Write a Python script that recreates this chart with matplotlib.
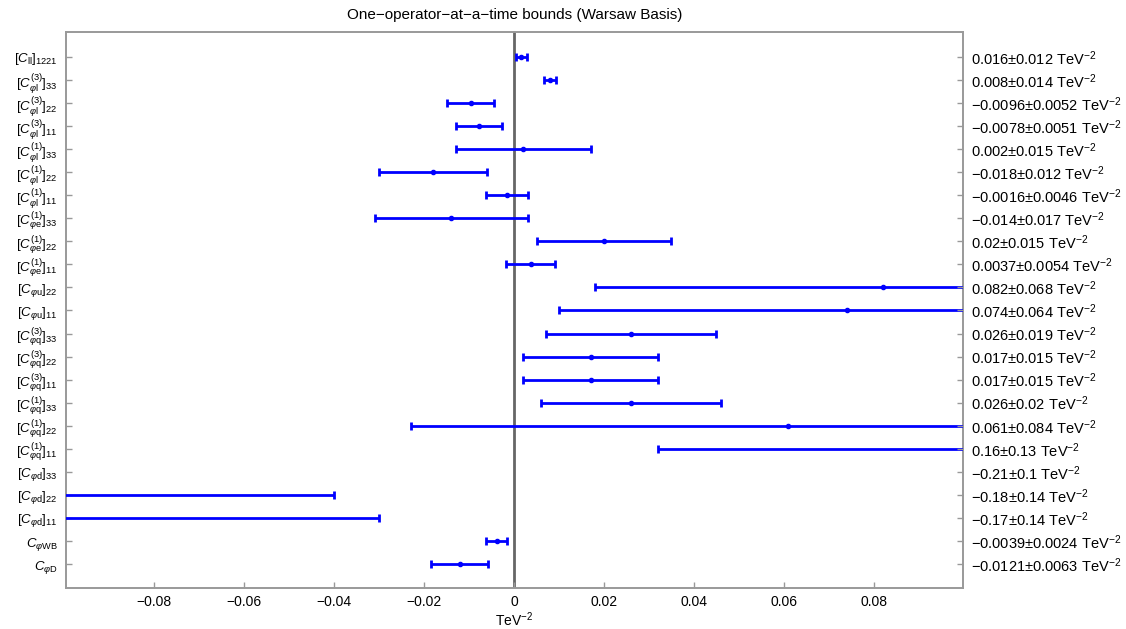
import matplotlib
matplotlib.use('Agg')
import matplotlib.pyplot as plt
import numpy as np

plt.rcParams['font.family'] = ['Liberation Sans', 'DejaVu Sans']
plt.rcParams['mathtext.fontset'] = 'custom'
plt.rcParams['mathtext.rm'] = 'Liberation Sans'
plt.rcParams['mathtext.it'] = 'Liberation Sans:italic'
plt.rcParams['mathtext.bf'] = 'Liberation Sans:bold'

# operators, top to bottom
operators = [
    r'$[C_{\mathrm{ll}}]_{1221}$',
    r'$[C^{(3)}_{\varphi \mathrm{l}}]_{33}$',
    r'$[C^{(3)}_{\varphi \mathrm{l}}]_{22}$',
    r'$[C^{(3)}_{\varphi \mathrm{l}}]_{11}$',
    r'$[C^{(1)}_{\varphi \mathrm{l}}]_{33}$',
    r'$[C^{(1)}_{\varphi \mathrm{l}}]_{22}$',
    r'$[C^{(1)}_{\varphi \mathrm{l}}]_{11}$',
    r'$[C^{(1)}_{\varphi \mathrm{e}}]_{33}$',
    r'$[C^{(1)}_{\varphi \mathrm{e}}]_{22}$',
    r'$[C^{(1)}_{\varphi \mathrm{e}}]_{11}$',
    r'$[C_{\varphi \mathrm{u}}]_{22}$',
    r'$[C_{\varphi \mathrm{u}}]_{11}$',
    r'$[C^{(3)}_{\varphi \mathrm{q}}]_{33}$',
    r'$[C^{(3)}_{\varphi \mathrm{q}}]_{22}$',
    r'$[C^{(3)}_{\varphi \mathrm{q}}]_{11}$',
    r'$[C^{(1)}_{\varphi \mathrm{q}}]_{33}$',
    r'$[C^{(1)}_{\varphi \mathrm{q}}]_{22}$',
    r'$[C^{(1)}_{\varphi \mathrm{q}}]_{11}$',
    r'$[C_{\varphi \mathrm{d}}]_{33}$',
    r'$[C_{\varphi \mathrm{d}}]_{22}$',
    r'$[C_{\varphi \mathrm{d}}]_{11}$',
    r'$C_{\varphi \mathrm{WB}}$',
    r'$C_{\varphi \mathrm{D}}$',
]

# best-fit values and 1-sigma errors (TeV^-2)
centers = [0.0016, 0.008, -0.0096, -0.0078, 0.002, -0.018, -0.0016, -0.014,
           0.02, 0.0037, 0.082, 0.074, 0.026, 0.017, 0.017, 0.026, 0.061,
           0.16, -0.21, -0.18, -0.17, -0.0039, -0.0121]
errors = [0.0012, 0.0014, 0.0052, 0.0051, 0.015, 0.012, 0.0046, 0.017,
          0.015, 0.0054, 0.064, 0.064, 0.019, 0.015, 0.015, 0.02, 0.084,
          0.128, 0.1, 0.14, 0.14, 0.0024, 0.0063]

# quoted bounds shown on the right
bound_vals = ['0.016', '0.008', '\u22120.0096', '\u22120.0078', '0.002',
              '\u22120.018', '\u22120.0016', '\u22120.014', '0.02', '0.0037',
              '0.082', '0.074', '0.026', '0.017', '0.017', '0.026', '0.061',
              '0.16', '\u22120.21', '\u22120.18', '\u22120.17', '\u22120.0039',
              '\u22120.0121']
bound_errs = ['0.012', '0.014', '0.0052', '0.0051', '0.015', '0.012', '0.0046',
              '0.017', '0.015', '0.0054', '0.068', '0.064', '0.019', '0.015',
              '0.015', '0.02', '0.084', '0.13', '0.1', '0.14', '0.14', '0.0024',
              '0.0063']
bound_labels = [f'{v}\u00b1{e} TeV$^{{-2}}$' for v, e in zip(bound_vals, bound_errs)]

xticks = [-0.08, -0.06, -0.04, -0.02, 0, 0.02, 0.04, 0.06, 0.08]
xtick_labels = ['\u22120.08', '\u22120.06', '\u22120.04', '\u22120.02', '0',
                '0.02', '0.04', '0.06', '0.08']

n = len(operators)
ypos = np.arange(n)[::-1]

fig = plt.figure(figsize=(11.26, 6.29), dpi=100)
ax = fig.add_axes([66 / 1126, 1 - 588 / 629, (963 - 66) / 1126, (588 - 32) / 629])

ax.axvline(0, color='#666666', lw=2, zorder=1)
ax.errorbar(centers, ypos, xerr=errors, fmt='o', ms=3, color='blue',
            ecolor='blue', elinewidth=2, capsize=3, capthick=2, zorder=3)

ax.set_xlim(-0.0996, 0.0998)
ax.set_ylim(-1.04, n - 1 + 1.08)

gray = '#999999'
for s in ax.spines.values():
    s.set_color(gray)
    s.set_linewidth(1.4)

ax.set_xticks(xticks)
ax.set_xticklabels(xtick_labels, fontsize=10)
ax.set_yticks(ypos)
ax.set_yticklabels(operators, fontsize=9.5)
ax.tick_params(axis='both', direction='in', color=gray, length=4, width=1)
ax.tick_params(axis='x', pad=5)
ax.tick_params(axis='y', pad=6)

# axis unit under the tick labels
fig.text(514 / 1126, 1 - 620 / 629, 'TeV$^{-2}$', fontsize=10,
         ha='center', va='center')

ax2 = ax.twinx()
ax2.set_ylim(ax.get_ylim())
ax2.set_yticks(ypos)
ax2.set_yticklabels(bound_labels, fontsize=10.5)
ax2.tick_params(axis='y', direction='in', color=gray, length=4, width=1, pad=6)
for s in ax2.spines.values():
    s.set_visible(False)

ax.set_title('One\u2212operator\u2212at\u2212a\u2212time bounds (Warsaw Basis)',
             fontsize=11, pad=9)

fig.savefig('out.png', dpi=100)
